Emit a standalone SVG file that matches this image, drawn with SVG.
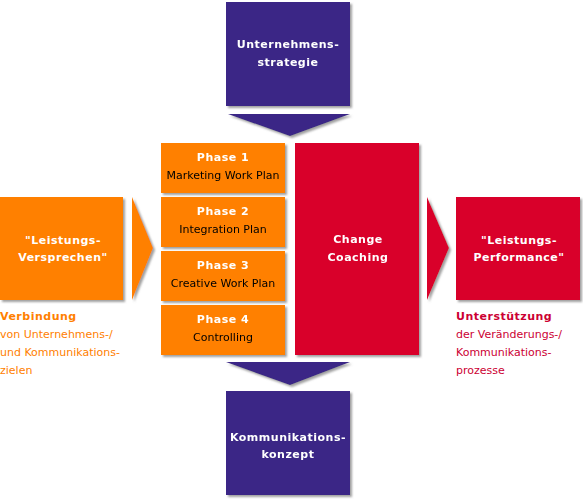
<svg xmlns="http://www.w3.org/2000/svg" width="583" height="500" viewBox="0 0 583 500">
<defs>
<filter id="sh" x="-10%" y="-10%" width="130%" height="130%">
<feDropShadow dx="2" dy="2" stdDeviation="0.8" flood-color="#888" flood-opacity="0.8"/>
</filter>
<style>
.o{fill:#FF8000}
.r{fill:#D9002B}
.p{fill:#3B2886}
.b{font-family:"DejaVu Sans",Verdana,sans-serif;font-size:11px;font-weight:bold;letter-spacing:0.5px;fill:#fff;text-anchor:middle}
.n{font-family:"DejaVu Sans",Verdana,sans-serif;font-size:11px;fill:#000;text-anchor:middle}
.lo{font-family:"DejaVu Sans",Verdana,sans-serif;font-size:11px;fill:#FF8000}
.lr{font-family:"DejaVu Sans",Verdana,sans-serif;font-size:11px;fill:#CC0033}
.hb{font-weight:bold;letter-spacing:0.5px}
</style>
</defs>
<rect width="583" height="500" fill="#fff"/>
<g id="connectors" filter="url(#sh)">
<polygon class="p" points="228,114 350,114 290,136"/>
<polygon class="p" points="226,362 350,362 290,385"/>
<polygon class="o" points="132,197 153,248 132,300"/>
<polygon class="r" points="427,197 449,248 427,300"/>
</g>
<g id="strategie" filter="url(#sh)">
<rect class="p" x="226" y="2" width="124" height="104"/>
<text class="b" x="288" y="48">Unternehmens-</text>
<text class="b" x="288" y="66">strategie</text>
</g>
<g id="konzept" filter="url(#sh)">
<rect class="p" x="226" y="391" width="124" height="104"/>
<text class="b" x="288" y="441">Kommunikations-</text>
<text class="b" x="288" y="458">konzept</text>
</g>
<g id="phase1" filter="url(#sh)">
<rect class="o" x="161" y="143" width="124" height="50"/>
<text class="b" x="223" y="161">Phase 1</text>
<text class="n" x="223" y="179">Marketing Work Plan</text>
</g>
<g id="phase2" filter="url(#sh)">
<rect class="o" x="161" y="197" width="124" height="50"/>
<text class="b" x="223" y="215">Phase 2</text>
<text class="n" x="223" y="233">Integration Plan</text>
</g>
<g id="phase3" filter="url(#sh)">
<rect class="o" x="161" y="251" width="124" height="50"/>
<text class="b" x="223" y="269">Phase 3</text>
<text class="n" x="223" y="287">Creative Work Plan</text>
</g>
<g id="phase4" filter="url(#sh)">
<rect class="o" x="161" y="305" width="124" height="50"/>
<text class="b" x="223" y="323">Phase 4</text>
<text class="n" x="223" y="341">Controlling</text>
</g>
<g id="change" filter="url(#sh)">
<rect class="r" x="295" y="143" width="124" height="212"/>
<text class="b" x="358" y="243">Change</text>
<text class="b" x="358" y="261">Coaching</text>
</g>
<g id="versprechen">
<rect class="o" x="0" y="197" width="123" height="103" filter="url(#sh)"/>
<text class="b" x="63" y="244">"Leistungs-</text>
<text class="b" x="63" y="261">Versprechen"</text>
<text class="lo hb" x="0" y="320">Verbindung</text>
<text class="lo" x="0" y="338">von Unternehmens-/</text>
<text class="lo" x="0" y="356">und Kommunikations-</text>
<text class="lo" x="0" y="374">zielen</text>
</g>
<g id="performance">
<rect class="r" x="456" y="197" width="124" height="103" filter="url(#sh)"/>
<text class="b" x="519" y="244">"Leistungs-</text>
<text class="b" x="519" y="261">Performance"</text>
<text class="lr hb" x="456" y="320">Unterstützung</text>
<text class="lr" x="456" y="338">der Veränderungs-/</text>
<text class="lr" x="456" y="356">Kommunikations-</text>
<text class="lr" x="456" y="374">prozesse</text>
</g>
</svg>
